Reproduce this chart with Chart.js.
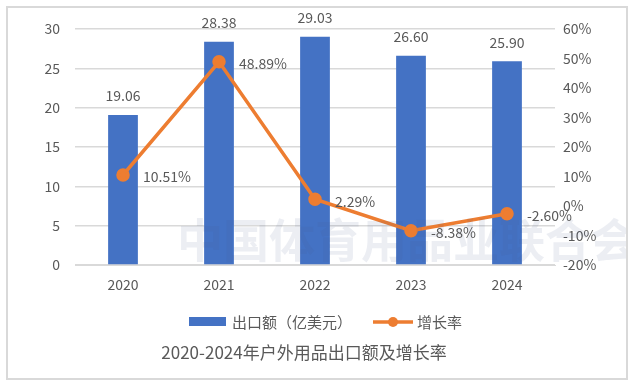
<!DOCTYPE html>
<html>
<head>
<meta charset="utf-8">
<script src="https://cdn.jsdelivr.net/npm/chart.js@4"></script>
<style>
html,body{margin:0;padding:0;background:#fff;}
#wrap{width:636px;height:387px;position:relative;}
</style>
</head>
<body>
<div id="wrap"><canvas id="c" width="636" height="387"></canvas></div>
<script>
const categories = ['2020', '2021', '2022', '2023', '2024'];
const exportValues = [19.06, 28.38, 29.03, 26.60, 25.90];
const growthRates = [10.51, 48.89, 2.29, -8.38, -2.60];
const leftTicks = [0, 5, 10, 15, 20, 25, 30];
const rightTicks = [-20, -10, 0, 10, 20, 30, 40, 50, 60];
const barLabel = '出口额（亿美元）';
const lineLabel = '增长率';
const titleText = '2020-2024年户外用品出口额及增长率';
const watermarkText = '中国体育用品业联合会';

const FONT = '"Noto Sans CJK SC", "Noto Sans", sans-serif';
const GRAY = '#595959';
const BLUE = '#4472C4';
const ORANGE = '#ED7D31';

const decor = {
  id: 'decor',
  beforeDraw(chart) {
    const ctx = chart.ctx;
    ctx.save();
    ctx.fillStyle = '#fff';
    ctx.fillRect(0, 0, chart.width, chart.height);
    ctx.strokeStyle = '#d9d9d9';
    ctx.lineWidth = 2;
    ctx.strokeRect(7, 7, 620, 372);
    ctx.restore();
  },
  afterDatasetsDraw(chart) {
    const ctx = chart.ctx;
    ctx.save();
    // watermark
    ctx.beginPath();
    ctx.rect(8, 8, 618, 370);
    ctx.clip();
    ctx.font = 'bold 46px ' + FONT;
    ctx.fillStyle = 'rgba(70,90,140,0.10)';
    ctx.textAlign = 'left';
    ctx.textBaseline = 'middle';
    ctx.fillText(watermarkText, 177, 240);

    // bar labels
    ctx.font = '14px ' + FONT;
    ctx.fillStyle = GRAY;
    ctx.textAlign = 'center';
    const barMeta = chart.getDatasetMeta(1);
    barMeta.data.forEach((el, i) => {
      ctx.fillText(exportValues[i].toFixed(2), el.x, el.y - 19);
    });
    // line labels
    ctx.textAlign = 'left';
    const lineMeta = chart.getDatasetMeta(0);
    lineMeta.data.forEach((el, i) => {
      ctx.fillText(growthRates[i].toFixed(2) + '%', el.x + 20, el.y + 2);
    });

    // legend
    ctx.fillStyle = BLUE;
    ctx.fillRect(189, 317, 37, 9);
    ctx.fillStyle = GRAY;
    ctx.font = '15px ' + FONT;
    ctx.fillText(barLabel, 232, 322);
    ctx.strokeStyle = ORANGE;
    ctx.lineWidth = 3.5;
    ctx.beginPath();
    ctx.moveTo(373, 322);
    ctx.lineTo(413, 322);
    ctx.stroke();
    ctx.fillStyle = ORANGE;
    ctx.beginPath();
    ctx.arc(393, 322, 5, 0, Math.PI * 2);
    ctx.fill();
    ctx.fillStyle = GRAY;
    ctx.fillText(lineLabel, 417, 322);

    // title
    ctx.font = '17px ' + FONT;
    ctx.textAlign = 'center';
    ctx.fillText(titleText, 304, 353);
    ctx.restore();
  }
};

new Chart(document.getElementById('c'), {
  data: {
    labels: categories,
    datasets: [
      {
        type: 'line',
        label: lineLabel,
        data: growthRates,
        yAxisID: 'y1',
        borderColor: ORANGE,
        backgroundColor: ORANGE,
        borderWidth: 3.5,
        pointRadius: 5,
        pointBackgroundColor: ORANGE,
        pointBorderColor: ORANGE,
        tension: 0,
        order: 0
      },
      {
        type: 'bar',
        label: barLabel,
        data: exportValues,
        yAxisID: 'y',
        backgroundColor: BLUE,
        categoryPercentage: 1,
        barPercentage: 0.31,
        order: 1
      }
    ]
  },
  options: {
    responsive: false,
    animation: false,
    devicePixelRatio: 1,
    layout: { padding: { top: 29, left: 0, right: 0, bottom: 0 } },
    plugins: { legend: { display: false }, tooltip: { enabled: false }, title: { display: false } },
    scales: {
      x: {
        grid: { display: false, drawTicks: false },
        border: { display: true, color: '#d9d9d9', width: 1 },
        ticks: { color: GRAY, font: { family: FONT, size: 14 }, padding: 11 },
        afterFit(s) { s.height = 122; }
      },
      y: {
        position: 'left',
        min: 0, max: 30,
        afterBuildTicks(s) { s.ticks = leftTicks.map(v => ({ value: v })); },
        grid: { color: '#d9d9d9', lineWidth: 1.5, drawTicks: false },
        border: { display: false },
        ticks: { color: GRAY, font: { family: FONT, size: 14 }, padding: 15 },
        afterFit(s) { s.width = 75; }
      },
      y1: {
        position: 'right',
        min: -20, max: 60,
        afterBuildTicks(s) { s.ticks = rightTicks.map(v => ({ value: v })); },
        grid: { display: false, drawTicks: false },
        border: { display: false },
        ticks: { color: GRAY, font: { family: FONT, size: 14 }, padding: 8, callback: v => v + '%' },
        afterFit(s) { s.width = 81; }
      }
    }
  },
  plugins: [decor]
});
</script>
</body>
</html>
